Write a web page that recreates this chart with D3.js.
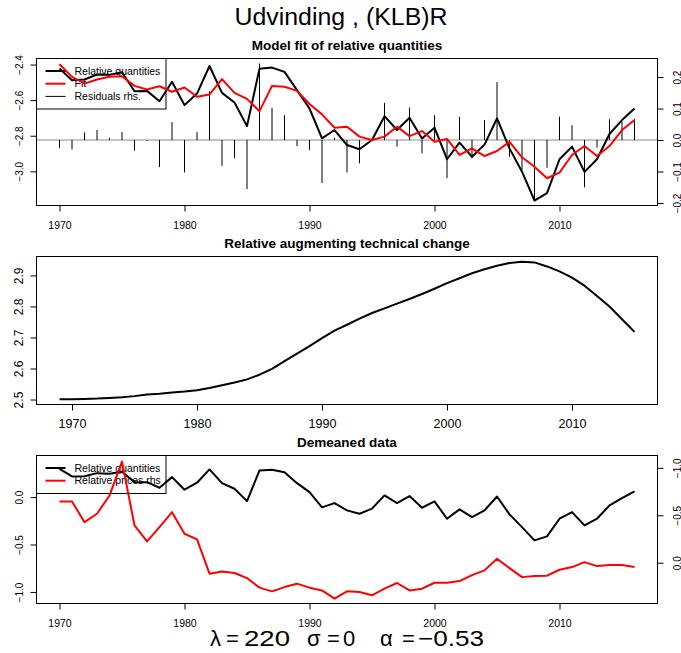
<!DOCTYPE html>
<html>
<head>
<meta charset="utf-8">
<script src="https://cdn.jsdelivr.net/npm/d3@7"></script>
<style>
  body { margin: 0; background: #fff; }
  svg { display: block; font-family: "Liberation Sans", Arial, sans-serif; }
</style>
</head>
<body>
<svg id="chart"></svg>
<script>
// data
var years = [1970,1971,1972,1973,1974,1975,1976,1977,1978,1979,1980,1981,1982,1983,1984,1985,
  1986,1987,1988,1989,1990,1991,1992,1993,1994,1995,1996,1997,1998,1999,2000,2001,2002,2003,
  2004,2005,2006,2007,2008,2009,2010,2011,2012,2013,2014,2015,2016];

var relQty = [-2.422,-2.488,-2.484,-2.456,-2.458,-2.443,-2.550,-2.548,-2.606,-2.497,-2.628,-2.563,
  -2.408,-2.559,-2.613,-2.746,-2.423,-2.417,-2.441,-2.544,-2.647,-2.815,-2.768,-2.852,-2.876,
  -2.824,-2.690,-2.768,-2.699,-2.815,-2.755,-2.932,-2.839,-2.918,-2.850,-2.703,-2.871,-3.002,
  -3.164,-3.123,-2.932,-2.861,-3.003,-2.932,-2.790,-2.712,-2.647];

var fitQty = [-2.398,-2.469,-2.507,-2.484,-2.469,-2.466,-2.520,-2.540,-2.522,-2.553,-2.529,-2.581,
  -2.568,-2.482,-2.559,-2.593,-2.662,-2.520,-2.525,-2.548,-2.622,-2.680,-2.755,-2.749,-2.805,
  -2.824,-2.805,-2.749,-2.802,-2.774,-2.834,-2.818,-2.908,-2.871,-2.914,-2.886,-2.834,-2.921,
  -2.974,-3.039,-3.007,-2.908,-2.858,-2.914,-2.858,-2.768,-2.712];

var residuals = [-0.026,-0.030,0.024,0.032,0.007,0.025,-0.034,-0.003,-0.086,0.057,-0.103,0.025,
  0.155,-0.082,-0.058,-0.156,0.243,0.102,0.079,-0.019,-0.032,-0.137,0.007,-0.103,-0.074,
  -0.002,0.118,-0.021,0.103,-0.042,0.079,-0.121,0.074,-0.058,0.063,0.184,-0.053,-0.095,
  -0.190,-0.088,0.074,0.047,-0.150,-0.024,0.066,0.058,0.066];

var techYears = [1969,1970,1971,1972,1973,1974,1975,1976,1977,1978,1979,1980,1981,1982,1983,1984,
  1985,1986,1987,1988,1989,1990,1991,1992,1993,1994,1995,1996,1997,1998,1999,2000,2001,2002,
  2003,2004,2005,2006,2007,2008,2009,2010,2011,2012,2013,2014,2015];

var techChange = [2.501,2.501,2.502,2.503,2.505,2.507,2.511,2.516,2.519,2.523,2.526,2.530,2.537,
  2.546,2.555,2.565,2.580,2.599,2.624,2.648,2.672,2.698,2.722,2.741,2.761,2.779,2.794,2.809,
  2.824,2.840,2.857,2.875,2.891,2.907,2.920,2.931,2.940,2.944,2.942,2.929,2.913,2.893,2.867,
  2.834,2.800,2.759,2.718];

var demeanQty = [0.299,0.218,0.221,0.253,0.246,0.267,0.158,0.158,0.099,0.211,0.078,0.152,0.292,
  0.147,0.088,-0.042,0.281,0.288,0.263,0.147,0.053,-0.108,-0.063,-0.140,-0.175,-0.122,0.018,
  -0.063,0.011,-0.112,-0.045,-0.228,-0.129,-0.210,-0.140,0.007,-0.182,-0.316,-0.456,-0.414,
  -0.228,-0.158,-0.298,-0.228,-0.087,-0.011,0.060];

var demeanPrice = [-0.645,-0.645,-0.427,-0.516,-0.708,-1.066,-0.393,-0.224,-0.375,-0.533,-0.305,
  -0.245,0.116,0.092,0.109,0.162,0.263,0.302,0.257,0.221,0.263,0.292,0.379,0.302,0.309,0.344,
  0.274,0.214,0.292,0.274,0.211,0.211,0.194,0.131,0.081,-0.042,0.057,0.152,0.141,0.137,0.074,
  0.046,-0.006,0.036,0.025,0.025,0.046];

var xTicks = [1970, 1980, 1990, 2000, 2010];
var topLeftTicks = [-2.4, -2.6, -2.8, -3.0];
var topRightTicks = [-0.2, -0.1, 0.0, 0.1, 0.2];
var midTicks = [2.5, 2.6, 2.7, 2.8, 2.9];
var botLeftTicks = [-1.0, -0.5, 0.0];
var botRightTicks = [-1.0, -0.5, 0.0];

var mainTitle = "Udvinding , (KLB)R";
var panelTitles = ["Model fit of relative quantities", "Relative augmenting technical change", "Demeaned data"];
var topLegend = ["Relative quantities", "Fit", "Residuals rhs."];
var botLegend = ["Relative quantities", "Relative prices rhs"];
// lambda = 220, sigma = 0, alpha = -0.53 (pieces of the plotmath line)
var footerParts = ["\u03bb", "=", "220", "\u03c3", "=", "0", "\u03b1", "=", "\u22120.53"];

// layout
var width = 681, height = 653;
var left = 36.5, right = 657.5;
var panels = [
  {top: 58.5, bottom: 205.5},
  {top: 256.5, bottom: 404.5},
  {top: 455.5, bottom: 603.5}
];

var svg = d3.select('#chart')
  .attr('width', width)
  .attr('height', height);

var fmt = function(d) { return d3.format('.1f')(d).replace('-', '\u2212'); };

function drawBox(p) {
  svg.append('rect')
    .attr('x', left).attr('y', p.top)
    .attr('width', right - left).attr('height', p.bottom - p.top)
    .attr('fill', 'none').attr('stroke', '#000').attr('stroke-width', 1);
}

function xAxis(p, scale, size) {
  var g = svg.append('g')
    .attr('transform', 'translate(0,' + p.bottom + ')')
    .call(d3.axisBottom(scale).tickValues(xTicks).tickSize(6).tickFormat(d3.format('d')));
  g.select('.domain').remove();
  g.selectAll('line').attr('stroke', '#000');
  g.selectAll('text')
    .attr('y', size > 11 ? 23.5 : 23)
    .attr('dy', null)
    .style('font-size', size + 'px')
    .attr('fill', '#000')
    .style('font-family', '"Liberation Sans", Arial, sans-serif');
}

function yAxis(scale, ticks, side, size) {
  var axis = side == 'left' ? d3.axisLeft(scale) : d3.axisRight(scale);
  var g = svg.append('g')
    .attr('transform', 'translate(' + (side == 'left' ? left : right) + ',0)')
    .call(axis.tickValues(ticks).tickSize(6).tickFormat(fmt));
  g.select('.domain').remove();
  g.selectAll('line').attr('stroke', '#000');
  g.selectAll('text')
    .attr('x', null).attr('dy', null)
    .attr('text-anchor', 'middle')
    .attr('fill', '#000')
    .style('font-size', size + 'px')
    .style('font-family', '"Liberation Sans", Arial, sans-serif')
    .attr('transform', side == 'left' ? 'translate(-14,0) rotate(-90)' : 'translate(23.3,0) rotate(-90)');
}

function title(p, txt) {
  svg.append('text')
    .attr('x', 347).attr('y', p.top - 8.5)
    .attr('text-anchor', 'middle')
    .style('font-size', '13.5px')
    .style('font-weight', 'bold')
    .text(txt);
}

function legend(p, labels, colors, widths, bottom) {
  svg.append('rect')
    .attr('x', left).attr('y', p.top)
    .attr('width', 166 - left).attr('height', bottom - p.top)
    .attr('fill', 'none').attr('stroke', '#000').attr('stroke-width', 1);
  labels.forEach(function(l, i) {
    var y = p.top + 12.5 + i * 12.7;
    svg.append('line')
      .attr('x1', 45.5).attr('x2', 65.5).attr('y1', y).attr('y2', y)
      .attr('stroke', colors[i]).attr('stroke-width', widths[i]);
    svg.append('text')
      .attr('x', 74.5).attr('y', y + 3.7)
      .style('font-size', '10.5px')
      .text(l);
  });
}

function line(xs, xScale, ys, yScale, color) {
  svg.append('path')
    .datum(ys)
    .attr('fill', 'none')
    .attr('stroke', color)
    .attr('stroke-width', 2)
    .attr('stroke-linejoin', 'round')
    .attr('d', d3.line()
      .x(function(d, i) { return xScale(xs[i]); })
      .y(function(d) { return yScale(d); }));
}

// main title
svg.append('text')
  .attr('x', 341).attr('y', 25)
  .attr('text-anchor', 'middle')
  .attr('textLength', 213).attr('lengthAdjust', 'spacingAndGlyphs')
  .style('font-size', '23px')
  .text(mainTitle);

//---- panel 1: model fit
var p1 = panels[0];
var x1 = d3.scaleLinear().domain([1968.16, 2017.84]).range([left, right]);
var y1 = d3.scaleLinear().domain([-3.192, -2.366]).range([p1.bottom, p1.top]);
var y1r = d3.scaleLinear().domain([-0.208, 0.259]).range([p1.bottom, p1.top]);

legend(p1, topLegend, ['#000', '#f00', '#000'], [2, 2, 1], 109);

svg.append('line')
  .attr('x1', left).attr('x2', right)
  .attr('y1', y1r(0)).attr('y2', y1r(0))
  .attr('stroke', '#8c8c8c').attr('stroke-width', 1);

svg.append('g').selectAll('line')
  .data(residuals)
  .enter()
  .append('line')
  .attr('x1', function(d, i) { return x1(years[i]); })
  .attr('x2', function(d, i) { return x1(years[i]); })
  .attr('y1', y1r(0))
  .attr('y2', function(d) { return y1r(d); })
  .attr('stroke', '#000').attr('stroke-width', 1);

line(years, x1, relQty, y1, '#000');
line(years, x1, fitQty, y1, '#f00');

drawBox(p1);
xAxis(p1, x1, 10.5);
yAxis(y1, topLeftTicks, 'left', 10);
yAxis(y1r, topRightTicks, 'right', 10);
title(p1, panelTitles[0]);

//---- panel 2: technical change
var p2 = panels[1];
var x2 = d3.scaleLinear().domain([1967.16, 2016.84]).range([left, right]);
var y2 = d3.scaleLinear().domain([2.484, 2.961]).range([p2.bottom, p2.top]);

line(techYears, x2, techChange, y2, '#000');
drawBox(p2);
xAxis(p2, x2, 12.5);
yAxis(y2, midTicks, 'left', 12);
title(p2, panelTitles[1]);

//---- panel 3: demeaned data
var p3 = panels[2];
var x3 = d3.scaleLinear().domain([1968.16, 2017.84]).range([left, right]);
var y3 = d3.scaleLinear().domain([-1.122, 0.439]).range([p3.bottom, p3.top]);
// prices on an inverted right axis
var y3r = d3.scaleLinear().domain([0.43, -1.13]).range([p3.bottom, p3.top]);

legend(p3, botLegend, ['#000', '#f00'], [2, 2], 493.5);
line(years, x3, demeanQty, y3, '#000');
line(years, x3, demeanPrice, y3r, '#f00');

drawBox(p3);
xAxis(p3, x3, 10.5);
yAxis(y3, botLeftTicks, 'left', 10);
yAxis(y3r, botRightTicks, 'right', 10);
title(p3, panelTitles[2]);

// parameter line under the plots, pieces placed like the plotmath output
var footerX = [210, 226, 244, 307, 327, 343, 380, 402, 418];
var footerW = [null, null, 46, null, null, null, null, null, 66];
var footer = svg.append('g');
footerParts.forEach(function(s, i) {
  var t = footer.append('text')
    .attr('x', footerX[i]).attr('y', 645.5)
    .style('font-size', '22px')
    .text(s);
  if (footerW[i]) t.attr('textLength', footerW[i]).attr('lengthAdjust', 'spacingAndGlyphs');
});
</script>
</body>
</html>
